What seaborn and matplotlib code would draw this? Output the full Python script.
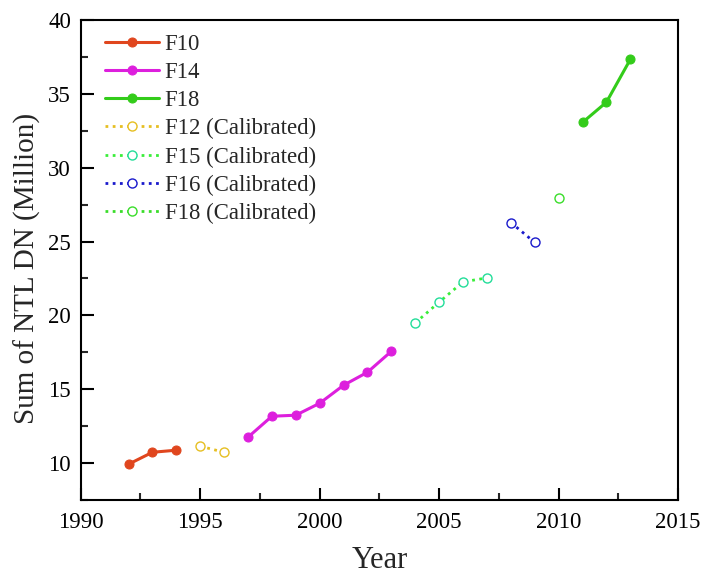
import pandas as pd
import seaborn as sns
import matplotlib.pyplot as plt
from matplotlib.ticker import MultipleLocator

# values
years_f10 = [1992, 1993, 1994]
vals_f10 = [9.92, 10.73, 10.87]
years_f12 = [1995, 1996]
vals_f12 = [11.14, 10.73]
years_f14 = [1997, 1998, 1999, 2000, 2001, 2002, 2003]
vals_f14 = [11.75, 13.17, 13.24, 14.05, 15.27, 16.15, 17.57]
years_f15 = [2004, 2005, 2006, 2007]
vals_f15 = [19.49, 20.9, 22.27, 22.54]
years_f16 = [2008, 2009]
vals_f16 = [26.29, 24.94]
years_f18c = [2010]
vals_f18c = [27.92]
years_f18 = [2011, 2012, 2013]
vals_f18 = [33.07, 34.44, 37.34]

sns.set_style('white')
plt.rcParams['font.family'] = ['Liberation Serif', 'DejaVu Serif']

fig, ax = plt.subplots(figsize=(7.02, 5.74), dpi=100)
fig.subplots_adjust(left=0.115, right=0.966, top=0.965, bottom=0.129)

solid = [('F10', years_f10, vals_f10, '#e0461e'),
         ('F14', years_f14, vals_f14, '#dd1fdd'),
         ('F18', years_f18, vals_f18, '#33cc1a')]
dotted = [('F12 (Calibrated)', years_f12, vals_f12, '#e6bf22', '#e6bf22'),
          ('F15 (Calibrated)', years_f15, vals_f15, '#3aee3a', '#22dd99'),
          ('F16 (Calibrated)', years_f16, vals_f16, '#1a1acc', '#1a1acc'),
          ('F18 (Calibrated)', years_f18c, vals_f18c, '#3add2a', '#3add2a')]

for lab, x, y, c in solid:
    sns.lineplot(x=x, y=y, ax=ax, color=c, lw=2.2, marker='o', ms=6.5,
                 mec=c, mfc=c, label=lab)

for lab, x, y, c, mc in dotted:
    sns.lineplot(x=x, y=y, ax=ax, color=c, lw=2.0, ls=(0, (1, 1.6)),
                 marker='o', ms=6.5, mec=mc, mfc='white', mew=1.0, label=lab)

ax.set_xlim(1990, 2015)
ax.set_ylim(7.5, 40)
ax.xaxis.set_major_locator(MultipleLocator(5))
ax.xaxis.set_minor_locator(MultipleLocator(2.5))
ax.yaxis.set_major_locator(MultipleLocator(5))
ax.yaxis.set_minor_locator(MultipleLocator(2.5))
ax.tick_params(which='major', direction='in', length=9, width=1.5,
               labelsize=16.5, colors='black', bottom=True, left=True, pad=7)
ax.tick_params(axis='x', which='major', pad=9)
ax.tick_params(which='minor', direction='in', length=5, width=1.5,
               bottom=True, left=True)
for s in ax.spines.values():
    s.set_linewidth(1.5)
    s.set_color('black')

ax.set_xlabel('Year', fontsize=22, labelpad=9)
ax.set_ylabel('Sum of NTL DN (Million)', fontsize=21, labelpad=5)
ax.yaxis.label.set_y(0.483)

ax.legend(loc='upper left', bbox_to_anchor=(0.028, 0.9875), frameon=False,
          fontsize=16.4, handlelength=2.35, labelspacing=0.31,
          borderaxespad=0.0, borderpad=0.35, handletextpad=0.25)

plt.savefig('out.png', dpi=100)
